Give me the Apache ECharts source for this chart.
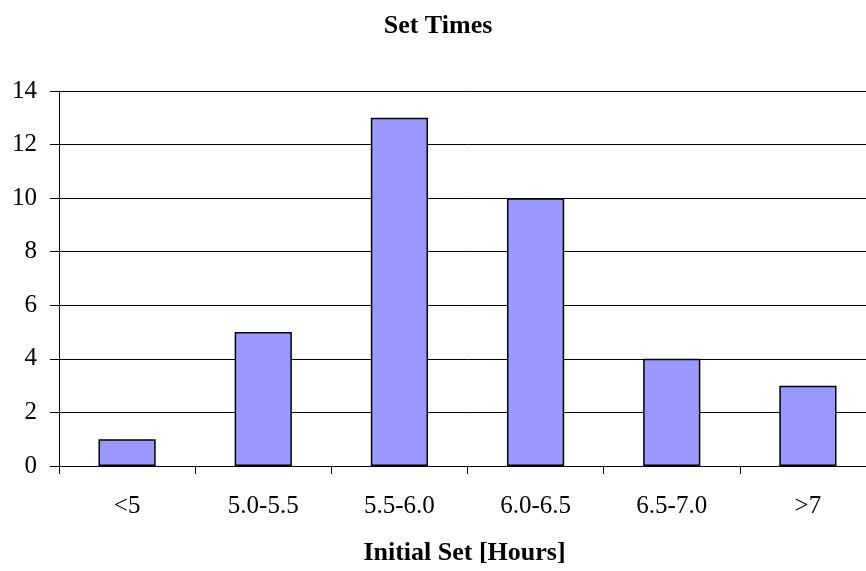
<!DOCTYPE html>
<html><head><meta charset="utf-8">
<script src="https://cdn.jsdelivr.net/npm/echarts@6/dist/echarts.min.js"></script>
<style>html,body{margin:0;padding:0;background:#fff;overflow:hidden}#c{width:876px;height:571px}</style>
</head><body><div id="c"></div>
<script>
const categories = ['<5', '5.0-5.5', '5.5-6.0', '6.0-6.5', '6.5-7.0', '>7'];
const counts = [1, 5, 13, 10, 4, 3];
const yTicks = { min: 0, max: 14, interval: 2 };
const FONT = '"Liberation Serif", "Times New Roman", serif';
const chart = echarts.init(document.getElementById('c'));
chart.setOption({
  animation: false,
  backgroundColor: '#fff',
  title: { text: 'Set Times', left: 'center', top: 8,
    textStyle: { fontFamily: FONT, fontSize: 26, fontWeight: 'bold', color: '#000' } },
  grid: { left: 59, width: 817, top: 91, height: 376, containLabel: false },
  xAxis: {
    type: 'category', data: categories, boundaryGap: true,
    name: 'Initial Set [Hours]', nameLocation: 'middle', nameGap: 74,
    nameTextStyle: { fontFamily: FONT, fontSize: 26, fontWeight: 'bold', color: '#000', padding: [0, 6, 0, 0] },
    axisLine: { lineStyle: { color: '#000', width: 1 } },
    axisTick: { show: true, alignWithLabel: false, length: 8, lineStyle: { color: '#000' } },
    axisLabel: { fontFamily: FONT, fontSize: 25, color: '#000', margin: 28, interval: 0 }
  },
  yAxis: {
    type: 'value', min: yTicks.min, max: yTicks.max, interval: yTicks.interval,
    axisLine: { show: true, lineStyle: { color: '#000', width: 1 } },
    axisTick: { show: true, length: 9, lineStyle: { color: '#000' } },
    axisLabel: { fontFamily: FONT, fontSize: 25, color: '#000', margin: 22 },
    splitLine: { show: true, lineStyle: { color: '#000', width: 1 } }
  },
  series: [{
    type: 'bar', data: counts, barWidth: '42%',
    itemStyle: { color: '#9999FF', borderColor: '#000', borderWidth: 1.5 }
  }]
});
</script></body></html>
